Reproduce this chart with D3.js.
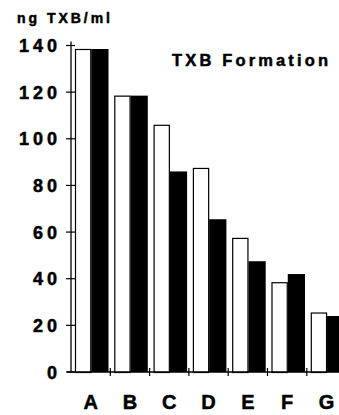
<!DOCTYPE html>
<html>
<head>
<meta charset="utf-8">
<script src="https://cdn.jsdelivr.net/npm/d3@7"></script>
<style>
  body { margin: 0; background: #fff; }
  svg text { font-family: "Liberation Sans", Arial, sans-serif; font-weight: bold; fill: #000; stroke: #000; stroke-width: 0.5; }
</style>
</head>
<body>
<div id="chart"></div>
<script>
// values
const categories = ['A', 'B', 'C', 'D', 'E', 'F', 'G'];
const openBars = [138.5, 118.5, 106, 87.5, 57.5, 38.5, 25.5];
const filledBars = [138.5, 118.5, 86, 65.5, 47.5, 42, 24];
const yTicks = [0, 20, 40, 60, 80, 100, 120, 140];
const yLabel = 'ng  TXB/ml';
const title = 'TXB  Formation';

const width = 339, height = 415;
const svg = d3.select('#chart').append('svg')
  .attr('width', width).attr('height', height);

const x = d3.scaleBand().domain(categories).range([71, 71 + 7 * 39.3]);
const inner = d3.scaleBand().domain(['open', 'filled']).range([4, 36.5]);
const y = d3.scaleLinear().domain([0, 140]).range([372, 45.5]);

const rows = categories.map((c, i) => ({ cat: c, open: openBars[i], filled: filledBars[i] }));

const groups = svg.append('g').selectAll('g').data(rows).enter()
  .append('g').attr('transform', d => `translate(${x(d.cat)},0)`);

groups.append('rect')
  .attr('x', inner('open') + 0.5)
  .attr('y', d => y(d.open) + 0.5)
  .attr('width', inner.bandwidth() - 1)
  .attr('height', d => y(0) - y(d.open))
  .attr('fill', '#fff').attr('stroke', '#000').attr('stroke-width', 1.2);

groups.append('rect')
  .attr('x', inner('filled'))
  .attr('y', d => y(d.filled))
  .attr('width', inner.bandwidth() + 1)
  .attr('height', d => y(0) - y(d.filled))
  .attr('fill', '#000');

// y axis, ticks cross the line
const yAxis = svg.append('g');
yAxis.append('line')
  .attr('x1', 71).attr('x2', 71).attr('y1', y(140) - 4).attr('y2', y(0))
  .attr('stroke', '#000').attr('stroke-width', 1.3);
yAxis.selectAll('.tick').data(yTicks).enter().append('line')
  .attr('x1', 66).attr('x2', 75)
  .attr('y1', d => y(d)).attr('y2', d => y(d))
  .attr('stroke', '#000').attr('stroke-width', 1.2);
yAxis.selectAll('.lbl').data(yTicks).enter().append('text')
  .attr('x', 61).attr('y', d => y(d) + 6.5)
  .attr('text-anchor', 'end')
  .attr('font-size', 18)
  .attr('letter-spacing', 4)
  .text(d => d);

// x axis
const xAxis = svg.append('g');
xAxis.append('line')
  .attr('x1', 67).attr('x2', width).attr('y1', y(0)).attr('y2', y(0))
  .attr('stroke', '#000').attr('stroke-width', 1.3);
xAxis.selectAll('.tick').data(categories.slice(1)).enter().append('line')
  .attr('x1', d => x(d)).attr('x2', d => x(d))
  .attr('y1', y(0) - 4).attr('y2', y(0) + 4)
  .attr('stroke', '#000').attr('stroke-width', 1.2);
xAxis.selectAll('.lbl').data(categories).enter().append('text')
  .attr('x', d => x(d) + x.bandwidth() / 2)
  .attr('y', 409)
  .attr('text-anchor', 'middle')
  .attr('font-size', 20)
  .text(d => d);

svg.append('text')
  .attr('x', 17).attr('y', 22.5)
  .attr('font-size', 14)
  .attr('textLength', 93).attr('lengthAdjust', 'spacing')
  .text(yLabel);

svg.append('text')
  .attr('x', 172).attr('y', 66)
  .attr('font-size', 16.5)
  .attr('textLength', 156).attr('lengthAdjust', 'spacing')
  .text(title);
</script>
</body>
</html>
